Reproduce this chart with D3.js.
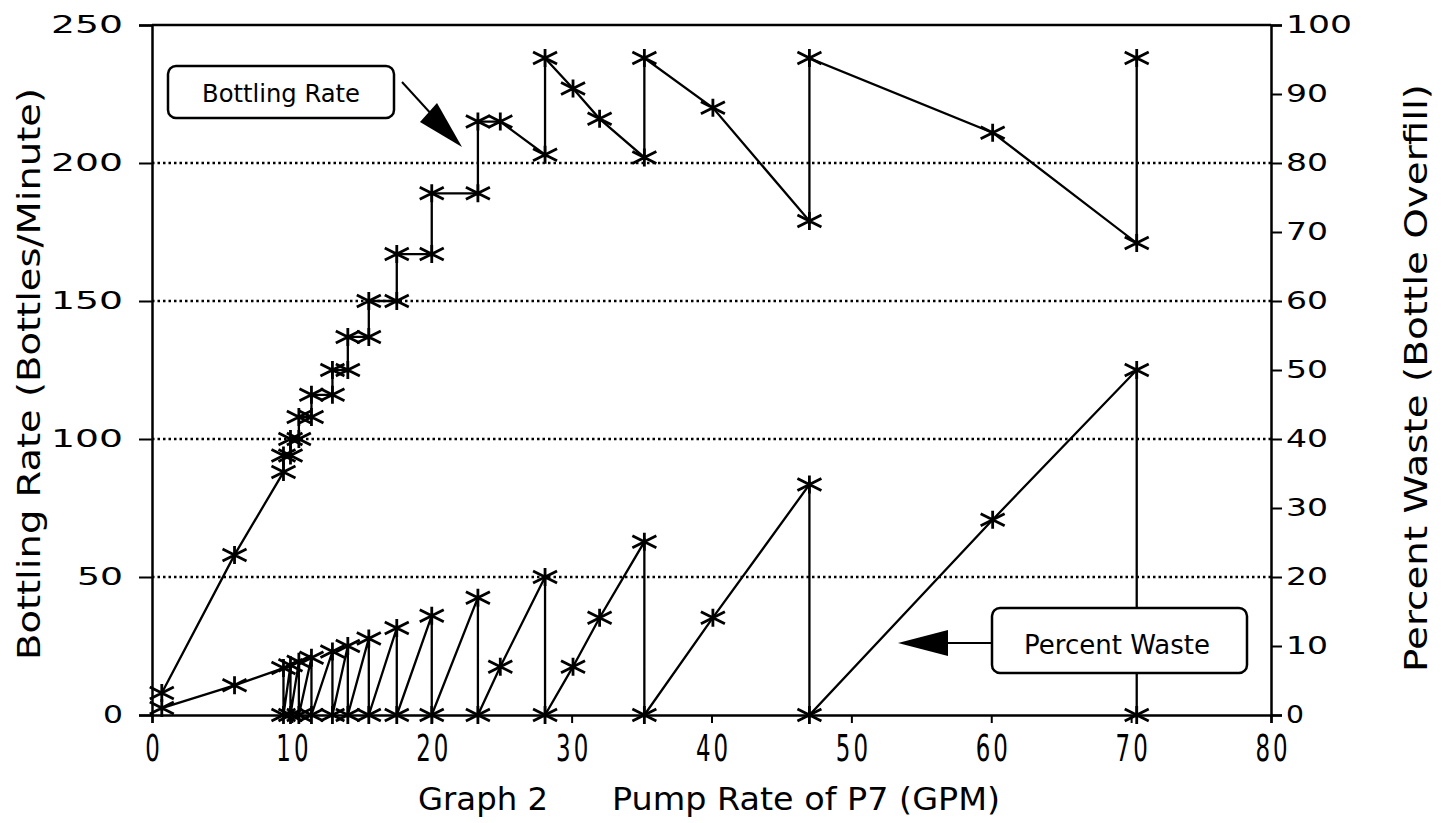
<!DOCTYPE html>
<html>
<head>
<meta charset="utf-8">
<script src="https://cdn.jsdelivr.net/npm/d3@7"></script>
<style>
  body { margin: 0; background: #fff; }
  text { font-family: "DejaVu Sans", sans-serif; fill: #000; }
</style>
</head>
<body>
<div id="chart"></div>
<script>
// bottling rate (left axis, bottles/minute)
var ratePump = [0.7, 5.9, 9.4, 9.4, 9.9, 9.9, 10.5, 10.5, 11.4, 11.4, 12.9, 12.9, 14.0, 14.0, 15.5, 15.5, 17.5, 17.5,
                20.0, 20.0, 23.3, 23.3, 24.9, 28.1, 28.1, 30.1, 32.0, 35.2, 35.2, 40.1, 47.0, 47.0, 60.1, 70.4, 70.4];
var rateValues = [8, 58, 88, 94, 94, 100, 100, 108, 108, 116, 116, 125, 125, 137, 137, 150, 150, 167,
                  167, 189, 189, 215, 215, 203, 238, 227, 216, 202, 238, 220, 179, 238, 211, 171, 238];

// percent waste (right axis, %)
var wastePump = [0.7, 5.9, 9.4, 9.4, 9.9, 9.9, 10.5, 10.5, 11.4, 11.4, 12.9, 12.9, 14.0, 14.0, 15.5, 15.5, 17.5, 17.5,
                 20.0, 20.0, 23.3, 23.3, 24.9, 28.1, 28.1, 30.1, 32.0, 35.2, 35.2, 40.1, 47.0, 47.0, 60.1, 70.4, 70.4];
var wasteValues = [1.0, 4.3, 6.8, 0, 7.2, 0, 7.7, 0, 8.3, 0, 9.2, 0, 10.0, 0, 11.1, 0, 12.6, 0,
                   14.4, 0, 17.0, 0, 7.0, 20.0, 0, 7.0, 14.1, 25.1, 0, 14.1, 33.4, 0, 28.3, 50.0, 0];

var xTicks = [0, 10, 20, 30, 40, 50, 60, 70, 80];
var leftTicks = [0, 50, 100, 150, 200, 250];
var rightTicks = [0, 10, 20, 30, 40, 50, 60, 70, 80, 90, 100];
var gridTicks = [50, 100, 150, 200];

var width = 1445, height = 823;
var x0 = 152, x1 = 1271, yBottom = 715, yTop = 25;

var svg = d3.select("#chart").append("svg")
    .attr("width", width)
    .attr("height", height);

svg.append("rect").attr("width", width).attr("height", height).attr("fill", "#fff");

var x = d3.scaleLinear().domain([0, 80]).range([x0, x1]);
var yL = d3.scaleLinear().domain([0, 250]).range([yBottom, yTop]);
var yR = d3.scaleLinear().domain([0, 100]).range([yBottom, yTop]);

// dotted grid
svg.append("g").selectAll("line")
  .data(gridTicks)
  .enter().append("line")
    .attr("x1", x0).attr("x2", x1)
    .attr("y1", function(d) { return yL(d); })
    .attr("y2", function(d) { return yL(d); })
    .attr("stroke", "#000")
    .attr("stroke-width", 2.5)
    .attr("stroke-dasharray", "2.5,3");

// top border
svg.append("line")
  .attr("x1", x0).attr("x2", x1).attr("y1", yTop).attr("y2", yTop)
  .attr("stroke", "#000").attr("stroke-width", 2.5);

// axes
var gx = svg.append("g")
  .attr("transform", "translate(0," + yBottom + ")")
  .call(d3.axisBottom(x).tickValues(xTicks).tickSize(8).tickPadding(12));
gx.selectAll("text")
  .attr("font-size", 37)
  .attr("transform", "scale(0.62,1)")
  .attr("textLength", function(d) { return String(d).length * 30 - 8; })
  .attr("lengthAdjust", "spacing");

var gl = svg.append("g")
  .attr("transform", "translate(" + x0 + ",0)")
  .call(d3.axisLeft(yL).tickValues(leftTicks).tickSize(13).tickPadding(16));
gl.selectAll("text")
  .attr("font-size", 24)
  .attr("textLength", function(d) { return String(d).length * 26 - 6; })
  .attr("lengthAdjust", "spacingAndGlyphs");

var gr = svg.append("g")
  .attr("transform", "translate(" + x1 + ",0)")
  .call(d3.axisRight(yR).tickValues(rightTicks).tickSize(11).tickPadding(4));
gr.selectAll("text")
  .attr("font-size", 24)
  .attr("textLength", function(d) { return String(d).length * 24 - 6; })
  .attr("lengthAdjust", "spacingAndGlyphs");

[gx, gl, gr].forEach(function(g) {
  g.select(".domain").attr("stroke", "#000").attr("stroke-width", 2.5);
  g.selectAll(".tick line").attr("stroke", "#000").attr("stroke-width", 2);
  g.selectAll("text").attr("font-family", "DejaVu Sans").attr("fill", "#000");
});

// axis titles
svg.append("text")
  .attr("transform", "translate(40,374) rotate(-90)")
  .attr("text-anchor", "middle")
  .attr("font-size", 32)
  .attr("font-family", "Liberation Sans")
  .attr("textLength", 572)
  .attr("lengthAdjust", "spacingAndGlyphs")
  .text("Bottling Rate (Bottles/Minute)");

svg.append("text")
  .attr("transform", "translate(1427,378) rotate(-90)")
  .attr("text-anchor", "middle")
  .attr("font-size", 32)
  .attr("font-family", "Liberation Sans")
  .attr("textLength", 588)
  .attr("lengthAdjust", "spacingAndGlyphs")
  .text("Percent Waste (Bottle Overfill)");

svg.append("text")
  .attr("x", 418).attr("y", 810)
  .attr("font-size", 32)
  .attr("font-family", "Liberation Sans")
  .attr("textLength", 130)
  .attr("lengthAdjust", "spacingAndGlyphs")
  .text("Graph 2");
svg.append("text")
  .attr("x", 612).attr("y", 810)
  .attr("font-size", 32)
  .attr("font-family", "Liberation Sans")
  .attr("textLength", 388)
  .attr("lengthAdjust", "spacingAndGlyphs")
  .text("Pump Rate of P7 (GPM)");

// series lines
var rateData = ratePump.map(function(p, i) { return { x: p, y: rateValues[i] }; });
var wasteData = wastePump.map(function(p, i) { return { x: p, y: wasteValues[i] }; });

var lineL = d3.line().x(function(d) { return x(d.x); }).y(function(d) { return yL(d.y); });
var lineR = d3.line().x(function(d) { return x(d.x); }).y(function(d) { return yR(d.y); });

svg.append("path").datum(rateData)
  .attr("d", lineL).attr("fill", "none").attr("stroke", "#000").attr("stroke-width", 2.3);
svg.append("path").datum(wasteData)
  .attr("d", lineR).attr("fill", "none").attr("stroke", "#000").attr("stroke-width", 2.3);

// asterisk markers
var star = "M0,-9V9M-12,-6L12,6M-12,6L12,-6";
svg.append("g").selectAll("path")
  .data(rateData)
  .enter().append("path")
    .attr("d", star)
    .attr("transform", function(d) { return "translate(" + x(d.x) + "," + yL(d.y) + ")"; })
    .attr("stroke", "#000").attr("stroke-width", 2.8).attr("fill", "none");
svg.append("g").selectAll("path")
  .data(wasteData)
  .enter().append("path")
    .attr("d", star)
    .attr("transform", function(d) { return "translate(" + x(d.x) + "," + yR(d.y) + ")"; })
    .attr("stroke", "#000").attr("stroke-width", 2.8).attr("fill", "none");

// "Bottling Rate" callout
svg.append("rect")
  .attr("x", 168).attr("y", 66).attr("width", 226).attr("height", 52).attr("rx", 8)
  .attr("fill", "#fff").attr("stroke", "#000").attr("stroke-width", 2.5);
svg.append("text")
  .attr("x", 281).attr("y", 102)
  .attr("text-anchor", "middle")
  .attr("font-size", 25)
  .attr("font-family", "Liberation Sans")
  .attr("textLength", 158)
  .attr("lengthAdjust", "spacingAndGlyphs")
  .text("Bottling Rate");
svg.append("line")
  .attr("x1", 402).attr("y1", 82).attr("x2", 455).attr("y2", 140)
  .attr("stroke", "#000").attr("stroke-width", 2);
svg.append("path")
  .attr("d", "M462,147L420,122L437,103Z")
  .attr("fill", "#000");

// "Percent Waste" callout
svg.append("rect")
  .attr("x", 992).attr("y", 608).attr("width", 255).attr("height", 65).attr("rx", 8)
  .attr("fill", "#fff").attr("stroke", "#000").attr("stroke-width", 2.5);
svg.append("text")
  .attr("x", 1117).attr("y", 654)
  .attr("text-anchor", "middle")
  .attr("font-size", 26)
  .attr("font-family", "Liberation Sans")
  .attr("textLength", 186)
  .attr("lengthAdjust", "spacingAndGlyphs")
  .text("Percent Waste");
svg.append("line")
  .attr("x1", 992).attr("y1", 643).attr("x2", 930).attr("y2", 643)
  .attr("stroke", "#000").attr("stroke-width", 2);
svg.append("path")
  .attr("d", "M898,643L948,630L948,656Z")
  .attr("fill", "#000");
</script>
</body>
</html>
